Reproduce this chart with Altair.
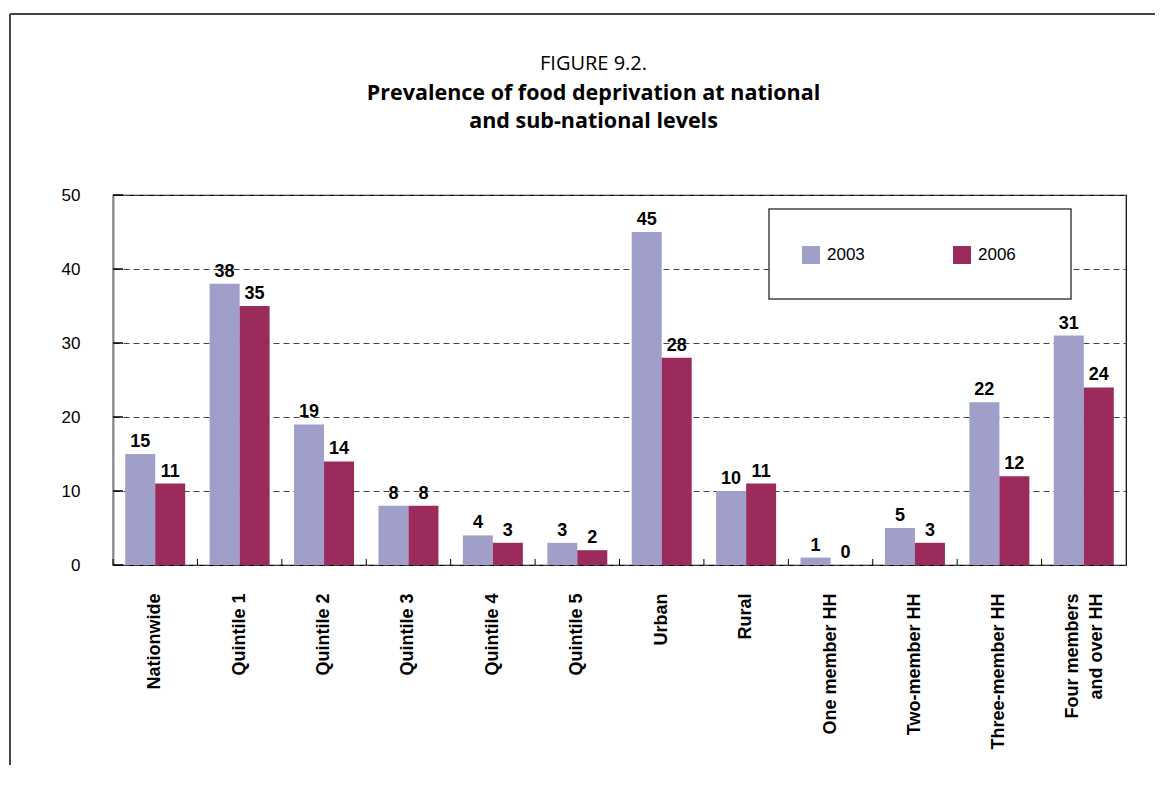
import altair as alt
import pandas as pd

categories = ["Nationwide", "Quintile 1", "Quintile 2", "Quintile 3", "Quintile 4",
              "Quintile 5", "Urban", "Rural", "One member HH", "Two-member HH",
              "Three-member HH", "Four members|and over HH"]
v2003 = [15, 38, 19, 8, 4, 3, 45, 10, 1, 5, 22, 31]
v2006 = [11, 35, 14, 8, 3, 2, 28, 11, 0, 3, 12, 24]
years = ["2003", "2006"]
colors = ["#A09FC9", "#9C2B5D"]
y_ticks = [0, 10, 20, 30, 40, 50]

rows = []
for c, a, b in zip(categories, v2003, v2006):
    rows.append({"cat": c, "year": "2003", "value": a})
    rows.append({"cat": c, "year": "2006", "value": b})
df = pd.DataFrame(rows)
cat_df = pd.DataFrame({"cat": categories})
tick_df = pd.DataFrame({"value": y_ticks})
one = pd.DataFrame({"a": [0]})

W, H = 1013, 370
FONT = "Liberation Sans, Arial, sans-serif"

xscale = alt.Scale(paddingInner=0, paddingOuter=0)
yscale = alt.Scale(domain=[0, 50], nice=False)

x_axis = alt.Axis(title=None, labelAngle=-90, labelAlign="right",
                  labelBaseline="middle", labelFont=FONT,
                  labelFontWeight="bold", labelFontSize=18,
                  labelColor="black", labelPadding=28, ticks=False,
                  domain=False, grid=False,
                  labelExpr="split(datum.label, '|')",
                  labelLineHeight=24,
                  labelOffset={"condition": {"test": "indexof(datum.value, '|') >= 0",
                                             "value": -11},
                               "value": 0})
y_axis = alt.Axis(title=None, values=y_ticks, grid=True,
                  gridDash=[6, 4], gridColor="#444", gridWidth=1,
                  ticks=False, domain=True, domainColor="#888",
                  domainWidth=2, labelFont=FONT, labelFontSize=17,
                  labelColor="black", labelPadding=33)

x_enc = alt.X("cat:N", sort=categories, scale=xscale, axis=x_axis)
xo_enc = alt.XOffset("year:N", sort=years,
                     scale=alt.Scale(paddingOuter=0.407, paddingInner=0))
y_enc = alt.Y("value:Q", scale=yscale, axis=y_axis)

base = alt.Chart(df)

bars = base.mark_bar().encode(
    x=x_enc, xOffset=xo_enc, y=y_enc,
    color=alt.Color("year:N", sort=years,
                    scale=alt.Scale(domain=years, range=colors),
                    legend=alt.Legend(orient="none", legendX=689, legendY=51,
                                      direction="horizontal", title=None,
                                      symbolType="square", symbolSize=324,
                                      symbolStrokeWidth=0, labelFont=FONT,
                                      labelFontSize=17, labelColor="black",
                                      columnPadding=88, labelOffset=7,
                                      padding=0)))

labels = base.mark_text(font=FONT, fontWeight="bold", fontSize=18,
                        baseline="alphabetic", dy=-7, color="black").encode(
    x=x_enc, xOffset=xo_enc, y=y_enc, text="value:Q")

x_ticks = alt.Chart(cat_df).mark_rule(color="black", strokeWidth=1).encode(
    x=alt.X("cat:N", sort=categories, scale=xscale, bandPosition=0, axis=x_axis),
    y=alt.value(H - 6), y2=alt.value(H))

y_tick_rules = alt.Chart(tick_df).mark_rule(color="black", strokeWidth=1.5).encode(
    y=y_enc, x=alt.value(0), x2=alt.value(10))

legend_box = alt.Chart(one).mark_rect(fill="white", stroke="#444",
                                      strokeWidth=1.5).encode(
    x=alt.value(656), x2=alt.value(958), y=alt.value(14), y2=alt.value(104))

frame_top = alt.Chart(one).mark_rule(color="#444", strokeWidth=2).encode(
    x=alt.value(-103), x2=alt.value(1060), y=alt.value(-181))
frame_left = alt.Chart(one).mark_rule(color="#444", strokeWidth=2).encode(
    x=alt.value(-103), y=alt.value(-181), y2=alt.value(620))

chart = alt.layer(bars, labels, x_ticks, y_tick_rules, legend_box,
                  frame_top, frame_left).properties(
    width=W, height=H,
    autosize="none",
    padding={"left": 105, "top": 187, "right": 29, "bottom": 200},
    title=alt.TitleParams(
        text="FIGURE 9.2.",
        subtitle=["Prevalence of food deprivation at national",
                  "and sub-national levels"],
        font="Open Sans", fontSize=20, fontWeight="normal", color="black",
        subtitleFont="Open Sans", subtitleFontSize=21.5,
        subtitleFontWeight="bold", subtitleColor="black",
        subtitleLineHeight=28, subtitlePadding=9,
        anchor="middle", dx=-26, offset=-119)
).configure_view(stroke="black", strokeWidth=1.2)

chart.save("out.html", embed_options={"renderer": "svg", "actions": False})
